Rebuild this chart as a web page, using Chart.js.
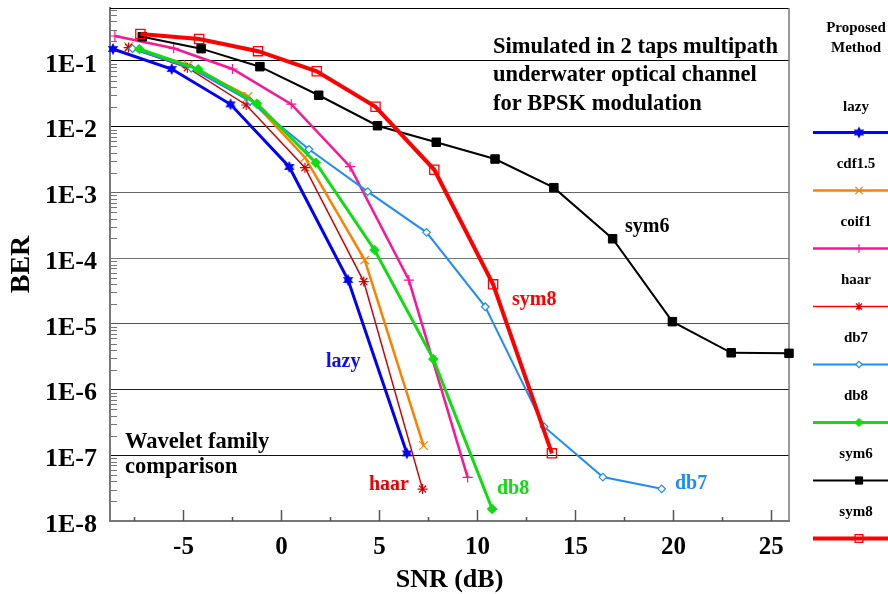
<!DOCTYPE html>
<html><head><meta charset="utf-8">
<script src="https://cdn.jsdelivr.net/npm/chart.js@4/dist/chart.umd.min.js"></script>
<style>html,body{margin:0;padding:0;background:#fff;}canvas{display:block;}</style>
</head><body>
<canvas id="c" width="888" height="594"></canvas>
<script>
// ---------- data ----------
const seriesNames = ['lazy','cdf1.5','coif1','haar','db7','db8','sym6','sym8'];

const lazyX  = [-8.6, -5.6, -2.6, 0.4, 3.4, 6.4];
const lazyY  = [0.152, 0.0755, 0.0219, 0.00244, 4.64e-5, 1.07e-7];

const cdfX   = [-7.8, -4.75, -1.7, 1.2, 4.25, 7.25];
const cdfY   = [0.165, 0.087, 0.029, 0.0034, 9.35e-5, 1.40e-7];

const coifX  = [-8.5, -5.5, -2.5, 0.5, 3.5, 6.5, 9.5];
const coifY  = [0.240, 0.156, 0.0755, 0.022, 0.00246, 4.64e-5, 4.6e-8];

const haarX  = [-7.8, -4.8, -1.8, 1.2, 4.2, 7.2];
const haarY  = [0.160, 0.079, 0.0214, 0.00238, 4.4e-5, 3.06e-8];

const db7X   = [-7.6, -4.6, -1.6, 1.4, 4.4, 7.4, 10.4, 13.4, 16.4, 19.4];
const db7Y   = [0.154, 0.0774, 0.0244, 0.00453, 0.00103, 2.47e-4, 1.82e-5, 2.72e-7, 4.66e-8, 3.09e-8];

const db8X   = [-7.25, -4.25, -1.25, 1.75, 4.75, 7.75, 10.75];
const db8Y   = [0.152, 0.0748, 0.0224, 0.00283, 1.33e-4, 2.91e-6, 1.52e-8];

const sym6X  = [-7.1, -4.1, -1.1, 1.9, 4.9, 7.9, 10.9, 13.9, 16.9, 19.95, 22.95, 25.9];
const sym6Y  = [0.234, 0.154, 0.0819, 0.0301, 0.01035, 0.0058, 0.00322, 0.00118, 1.97e-4, 1.08e-5, 3.63e-6, 3.56e-6];

const sym8X  = [-7.2, -4.2, -1.2, 1.8, 4.8, 7.8, 10.8, 13.8];
const sym8Y  = [0.258, 0.216, 0.141, 0.0697, 0.0201, 0.00221, 3.99e-5, 1.07e-7];

const xTickValues = [-5, 0, 5, 10, 15, 20, 25];
const xTickLabels = ['-5', '0', '5', '10', '15', '20', '25'];
const yTickValues = [1e-8, 1e-7, 1e-6, 1e-5, 1e-4, 1e-3, 1e-2, 1e-1];
const yTickLabels = ['1E-8', '1E-7', '1E-6', '1E-5', '1E-4', '1E-3', '1E-2', '1E-1'];

// ---------- styles ----------
const SERIF = '"Liberation Serif", "Times New Roman", serif';

function starMarker(color, r) {
  const c = document.createElement('canvas');
  const s = Math.ceil(r * 2 + 2);
  c.width = s; c.height = s;
  const g = c.getContext('2d');
  g.fillStyle = color;
  g.translate(s / 2, s / 2);
  g.beginPath();
  for (let i = 0; i < 12; i++) {
    const a = -Math.PI / 2 + i * Math.PI / 6;
    const rr = i % 2 === 0 ? r : r * 0.55;
    g.lineTo(rr * Math.cos(a), rr * Math.sin(a));
  }
  g.closePath(); g.fill();
  return c;
}

const styleList = [
  {color:'#0000ff', width:3,   ps: starMarker('#0000ff', 6), r:6,   bg:'#0000ff', bw:1},
  {color:'#ff8000', width:2.5, ps:'crossRot', r:6,   bg:'#ff8000', bw:1.2},
  {color:'#ff1493', width:2.5, ps:'cross',    r:5,   bg:'#ff1493', bw:1.2},
  {color:'#d40000', width:1.5, ps:'star',     r:5,   bg:'#d40000', bw:1.2},
  {color:'#1e8cff', width:2,   ps:'rectRot',  r:3.8, bg:'#ffffff', bw:1.2},
  {color:'#10dd10', width:3,   ps:'rectRot',  r:4.8, bg:'#10dd10', bw:1},
  {color:'#000000', width:2,   ps:'rect',     r:6,   bg:'#000000', bw:1},
  {color:'#ff0000', width:4,   ps:'rect',     r:6.5, bg:'rgba(0,0,0,0)', bw:1.3}
];
const legendLineColors = ['#0000ff','#ff8000','#ff1493','#ff0000','#1e8cff','#10dd10','#000000','#ff0000'];

const xs = [lazyX, cdfX, coifX, haarX, db7X, db8X, sym6X, sym8X];
const ys = [lazyY, cdfY, coifY, haarY, db7Y, db8Y, sym6Y, sym8Y];

const datasets = seriesNames.map((name, i) => {
  const s = styleList[i];
  return {
    label: name,
    data: xs[i].map((x, j) => ({x: x, y: ys[i][j]})),
    showLine: true,
    borderColor: s.color,
    borderWidth: s.width,
    backgroundColor: s.color,
    pointStyle: s.ps,
    pointRadius: s.r,
    pointBackgroundColor: s.bg,
    pointBorderColor: s.color,
    pointBorderWidth: s.bw,
    tension: 0,
    clip: false,
    order: seriesNames.length - i
  };
});

function gridColor(v) {
  const e = Math.round(Math.log10(v));
  const m = {'-1':'#000','-2':'#000','-3':'#666','-4':'#777','-5':'#555','-6':'#222','-7':'#111','-8':'rgba(0,0,0,0)'};
  return m[String(e)] || 'rgba(0,0,0,0)';
}

// ---------- plugins ----------
const framePlugin = {
  id: 'frame',
  beforeDatasetsDraw(chart) {
    const {ctx, chartArea: a, scales: {x, y}} = chart;
    ctx.save();
    ctx.strokeStyle = '#777'; ctx.lineWidth = 1;
    for (let e = -8; e <= -1; e++) {
      for (let k = 2; k <= 9; k++) {
        const v = k * Math.pow(10, e);
        if (v > y.max) continue;
        const py = Math.round(y.getPixelForValue(v)) + 0.5;
        ctx.beginPath(); ctx.moveTo(a.left, py); ctx.lineTo(a.left + 7, py); ctx.stroke();
      }
    }
    ctx.strokeStyle = '#555'; ctx.lineWidth = 1.5;
    for (let v = -7.5; v <= 25.01; v += 2.5) {
      const px = Math.round(x.getPixelForValue(v)) + 0.5;
      const major = Math.abs(v % 5) < 1e-6;
      ctx.beginPath(); ctx.moveTo(px, a.bottom); ctx.lineTo(px, a.bottom - (major ? 11 : 4)); ctx.stroke();
    }
    ctx.strokeStyle = '#000'; ctx.lineWidth = 1.2;
    ctx.beginPath(); ctx.moveTo(a.left, a.top + 0.5); ctx.lineTo(a.right, a.top + 0.5); ctx.stroke();
    ctx.strokeStyle = '#777'; ctx.lineWidth = 1.5;
    ctx.beginPath(); ctx.moveTo(a.right, a.top); ctx.lineTo(a.right, a.bottom); ctx.stroke();
    ctx.restore();
  }
};

const textPlugin = {
  id: 'texts',
  afterDatasetsDraw(chart) {
    const ctx = chart.ctx;
    ctx.save();
    ctx.fillStyle = '#000';
    ctx.textAlign = 'left';
    ctx.textBaseline = 'alphabetic';
    ctx.font = 'bold 22.5px ' + SERIF;
    ctx.fillText('Simulated in 2 taps multipath', 493, 53);
    ctx.fillText('underwater optical channel', 493, 81);
    ctx.fillText('for BPSK modulation', 493, 110);
    ctx.fillText('Wavelet family', 125, 448);
    ctx.fillText('comparison', 125, 473);
    ctx.font = 'bold 20px ' + SERIF;
    ctx.textBaseline = 'middle';
    const labels = [
      ['lazy', '#1010ee', 326, 362],
      ['haar', '#ee0000', 369, 485],
      ['db8', '#10dd10', 497, 489],
      ['sym8', '#ff0000', 512, 300],
      ['db7', '#1e8cff', 675, 484],
      ['sym6', '#000000', 625, 227]
    ];
    labels.forEach(l => { ctx.fillStyle = l[1]; ctx.fillText(l[0], l[2], l[3]); });
    ctx.restore();
  }
};

const legendPlugin = {
  id: 'sideLegend',
  afterDraw(chart) {
    const ctx = chart.ctx;
    ctx.save();
    ctx.textAlign = 'center';
    ctx.textBaseline = 'middle';
    ctx.fillStyle = '#000';
    ctx.font = 'bold 15px ' + SERIF;
    ctx.fillText('Proposed', 856, 28);
    ctx.fillText('Method', 856, 48);
    chart.data.datasets.forEach((ds, i) => {
      const ly = 106.7 + i * 57.9;
      ctx.fillStyle = '#000';
      ctx.font = 'bold 15px ' + SERIF;
      ctx.fillText(ds.label, 856, ly);
      const lineY = Math.round(ly + 25.7) + 0.5;
      ctx.strokeStyle = legendLineColors[i];
      ctx.lineWidth = ds.borderWidth;
      ctx.beginPath(); ctx.moveTo(813, lineY); ctx.lineTo(888, lineY); ctx.stroke();
      ctx.fillStyle = ds.pointBackgroundColor;
      ctx.strokeStyle = ds.pointBorderColor;
      ctx.lineWidth = ds.pointBorderWidth;
      Chart.helpers.drawPoint(ctx, {pointStyle: ds.pointStyle, radius: ds.pointRadius * 0.85, rotation: 0, borderWidth: ds.pointBorderWidth}, 859, lineY);
    });
    ctx.restore();
  }
};

// ---------- chart ----------
new Chart(document.getElementById('c'), {
  type: 'scatter',
  data: {datasets: datasets},
  options: {
    responsive: false,
    animation: false,
    devicePixelRatio: 1,
    layout: {padding: {left: 0, top: 8, right: 99, bottom: 0}},
    plugins: {legend: {display: false}, tooltip: {enabled: false}},
    scales: {
      x: {
        type: 'linear', min: -8.75, max: 25.9,
        afterBuildTicks(s) { s.ticks = xTickValues.map(v => ({value: v})); },
        afterFit(s) { s.height = 73; s.paddingLeft = 0; s.paddingRight = 0; },
        grid: {display: true, drawOnChartArea: false, drawTicks: false},
        border: {display: true, color: '#777', width: 2},
        ticks: {
          font: {family: SERIF, size: 25, weight: 'bold'}, color: '#000', padding: 12,
          maxRotation: 0, autoSkip: false,
          callback: (v, i) => xTickLabels[i]
        },
        title: {display: true, text: 'SNR (dB)', color: '#000',
          font: {family: SERIF, size: 26, weight: 'bold', lineHeight: 1}, padding: {top: 0, bottom: 1}}
      },
      y: {
        type: 'logarithmic', min: 1e-8, max: 0.64,
        afterBuildTicks(s) { s.ticks = yTickValues.map(v => ({value: v})); },
        afterFit(s) { s.width = 110; s.paddingTop = 0; s.paddingBottom = 0; },
        grid: {color: c => gridColor(c.tick.value), lineWidth: 1, drawTicks: false},
        border: {display: true, color: '#777', width: 2},
        ticks: {
          font: {family: SERIF, size: 26, weight: 'bold'}, color: '#000', padding: 13,
          autoSkip: false, labelOffset: 4,
          callback: (v, i) => yTickLabels[i]
        },
        title: {display: true, text: 'BER', color: '#000',
          font: {family: SERIF, size: 28, weight: 'bold', lineHeight: 1}, padding: {top: 8, bottom: 0}}
      }
    }
  },
  plugins: [framePlugin, textPlugin, legendPlugin]
});
</script>
</body></html>
